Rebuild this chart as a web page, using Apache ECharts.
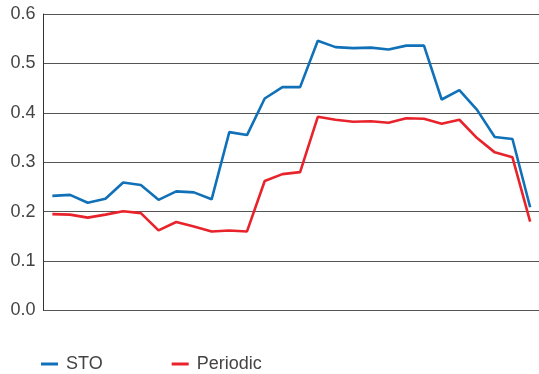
<!DOCTYPE html>
<html>
<head>
<meta charset="utf-8">
<script src="https://cdn.jsdelivr.net/npm/echarts@6/dist/echarts.min.js"></script>
<style>
html,body{margin:0;padding:0;background:#fff;}
#chart{width:539px;height:374px;}
</style>
</head>
<body>
<div id="chart"></div>
<script>
var categories = ['1','2','3','4','5','6','7','8','9','10','11','12','13','14','15','16','17','18','19','20','21','22','23','24','25','26','27','28'];
var stoValues = [0.232,0.234,0.218,0.226,0.259,0.254,0.224,0.241,0.239,0.225,0.361,0.355,0.429,0.452,0.452,0.546,0.533,0.531,0.532,0.528,0.536,0.536,0.427,0.446,0.406,0.351,0.347,0.209];
var periodicValues = [0.195,0.194,0.188,0.194,0.201,0.197,0.162,0.179,0.170,0.160,0.162,0.160,0.262,0.276,0.280,0.392,0.386,0.382,0.383,0.380,0.389,0.388,0.378,0.386,0.349,0.320,0.310,0.180];
var yTicks = [0, 0.1, 0.2, 0.3, 0.4, 0.5, 0.6];

var chart = echarts.init(document.getElementById('chart'));
var font = 'Liberation Sans, Arial, sans-serif';
chart.setOption({
  animation: false,
  grid: {left: 43.5, right: 0, top: 14, bottom: 63.5, containLabel: false},
  legend: {
    left: 36, top: 350,
    itemWidth: 17, itemHeight: 3, itemGap: 69,
    icon: 'rect',
    textStyle: {fontFamily: font, fontSize: 18, color: '#444', padding: [0,0,0,3]},
    data: ['STO', 'Periodic']
  },
  xAxis: {
    type: 'category',
    data: categories,
    boundaryGap: true,
    axisLine: {show: false},
    axisTick: {show: false},
    axisLabel: {show: false}
  },
  yAxis: {
    type: 'value',
    min: yTicks[0], max: yTicks[yTicks.length-1], interval: 0.1,
    axisLine: {show: true, lineStyle: {color: '#333', width: 1}},
    axisTick: {show: false},
    axisLabel: {fontFamily: font, fontSize: 18, color: '#444', margin: 8,
      formatter: function(v){ return v.toFixed(1); }},
    splitLine: {lineStyle: {color: '#555', width: 1.2}}
  },
  series: [
    {name: 'STO', type: 'line', data: stoValues, symbol: 'none',
     lineStyle: {color: '#1071b9', width: 2.6}, itemStyle: {color: '#1071b9'}},
    {name: 'Periodic', type: 'line', data: periodicValues, symbol: 'none',
     lineStyle: {color: '#e8232b', width: 2.6}, itemStyle: {color: '#e8232b'}}
  ]
});
</script>
</body>
</html>
